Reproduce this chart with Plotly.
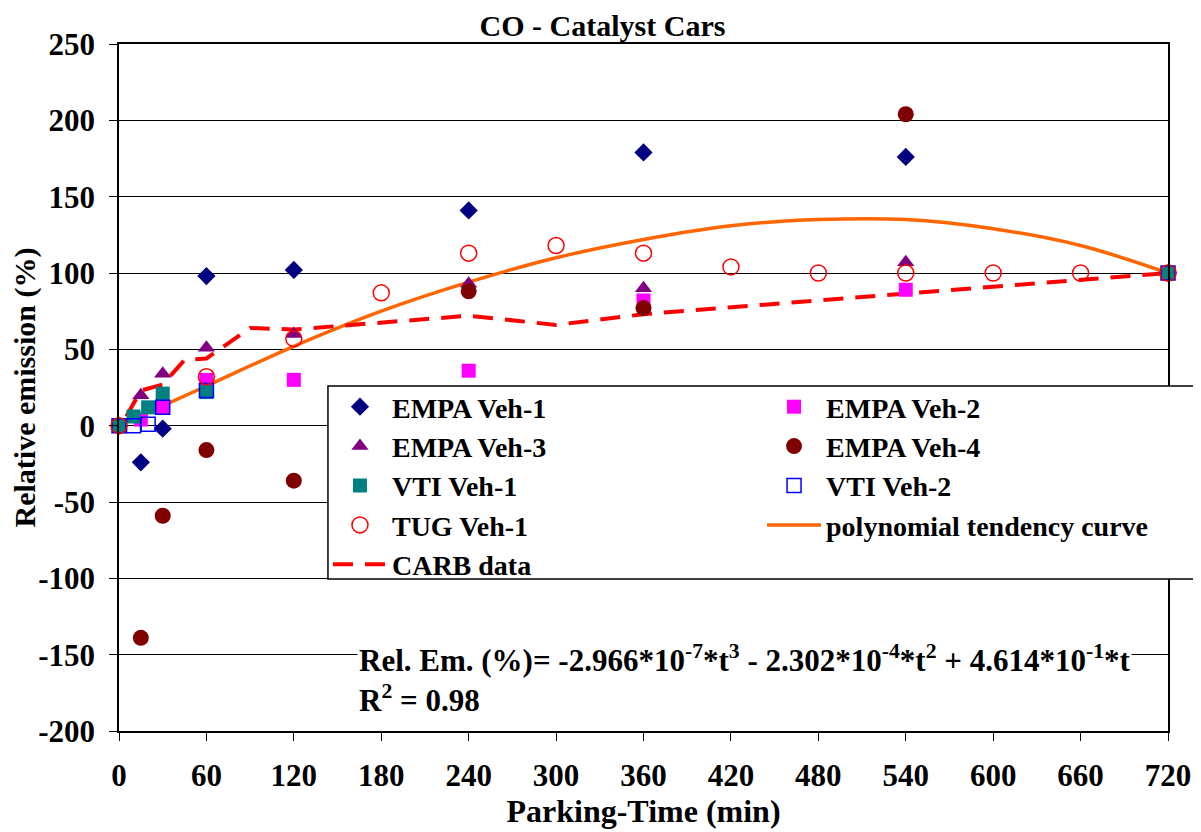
import plotly.graph_objects as go

# ---- data ----
empa1_t = [0, 15, 30, 60, 120, 240, 360, 540, 720]
empa1_v = [0, -24, -2, 98, 102, 141, 179, 176, 100]

empa2_t = [0, 15, 30, 60, 120, 240, 360, 540, 720]
empa2_v = [0, 4, 12, 30, 30, 36, 82, 89, 100]

empa3_t = [0, 15, 30, 60, 120, 240, 360, 540, 720]
empa3_v = [0, 20, 34, 51, 60, 93, 90, 107, 100]

empa4_t = [0, 15, 30, 60, 120, 240, 360, 540, 720]
empa4_v = [0, -139, -59, -16, -36, 88, 77, 204, 100]

vti1_t = [0, 10, 20, 30, 60, 720]
vti1_v = [0, 6, 12, 21, 22, 100]

vti2_t = [0, 10, 20, 30, 60, 720]
vti2_v = [0, 0, 1, 12, 23, 100]

tug1_t = [0, 60, 120, 180, 240, 300, 360, 420, 480, 540, 600, 660, 720]
tug1_v = [0, 32, 57, 87, 113, 118, 113, 104, 100, 100, 100, 100, 100]

poly_t = [30, 60, 120, 180, 240, 300, 360, 420, 480, 540, 600, 660, 720]
poly_v = [13, 26, 52, 75, 94, 110, 122, 131, 135, 135, 129, 118, 100]

carb_t = [5, 15, 30, 45, 60, 90, 120, 240, 300, 360, 720]
carb_v = [6, 23, 27, 43, 44, 64, 63, 72, 66, 73, 100]

x_ticks = [0, 60, 120, 180, 240, 300, 360, 420, 480, 540, 600, 660, 720]
y_ticks = [-200, -150, -100, -50, 0, 50, 100, 150, 200, 250]

title_text = "CO - Catalyst Cars"
x_title = "Parking-Time (min)"
y_title = "Relative emission (%)"
eq_text = ("Rel. Em. (%)= -2.966*10<sup>-7</sup>*t<sup>3</sup> - 2.302*10<sup>-4</sup>*t<sup>2</sup>"
           " + 4.614*10<sup>-1</sup>*t<br>R<sup>2</sup> = 0.98")

FONT = "Liberation Serif"


def f(size):
    return dict(family=FONT, size=size, color="black")


fig = go.Figure()

# lines first (drawn under markers)
fig.add_trace(go.Scatter(x=poly_t, y=poly_v, mode="lines", name="polynomial tendency curve",
                         line=dict(color="#FF6600", width=3.5, shape="spline"),
                         legend="legend2", legendrank=4, cliponaxis=False))
fig.add_trace(go.Scatter(x=carb_t, y=carb_v, mode="lines", name="CARB data",
                         line=dict(color="#FF0000", width=4, dash="20px,12px"),
                         legend="legend", legendrank=5, cliponaxis=False))

# (name, t, v, marker, legend, rank)
marker_series = [
    ("EMPA Veh-1", empa1_t, empa1_v, dict(symbol="diamond", size=14, color="#000080"), "legend", 1),
    ("EMPA Veh-2", empa2_t, empa2_v, dict(symbol="square", size=14, color="#FF00FF"), "legend2", 1),
    ("EMPA Veh-3", empa3_t, empa3_v, dict(symbol="triangle-up", size=15, color="#800080"), "legend", 2),
    ("EMPA Veh-4", empa4_t, empa4_v, dict(symbol="circle", size=16, color="#800000"), "legend2", 2),
    ("VTI Veh-1", vti1_t, vti1_v, dict(symbol="square", size=14, color="#008080"), "legend", 3),
    ("VTI Veh-2", vti2_t, vti2_v, dict(symbol="square-open", size=14, color="#0000FF",
                                       line=dict(width=1.5)), "legend2", 3),
    ("TUG Veh-1", tug1_t, tug1_v, dict(symbol="circle-open", size=16, color="#FF0000",
                                       line=dict(width=1.5)), "legend", 4),
]
for name, t, v, mk, lg, rank in marker_series:
    fig.add_trace(go.Scatter(x=t, y=v, mode="markers", name=name, marker=mk,
                             legend=lg, legendrank=rank, cliponaxis=False))

for tr in fig.data:
    tr.name = "<b>" + tr.name + "</b>"

leg_common = dict(orientation="v", yanchor="top", xanchor="left", y=0.508,
                  bgcolor="rgba(0,0,0,0)", borderwidth=0, font=f(28),
                  traceorder="normal", itemwidth=54)

# note: the page body adds an 8px offset, compensated in the margins
fig.update_layout(
    template="none",
    width=1201, height=832,
    margin=dict(l=111, r=41, t=36, b=109, autoexpand=False),
    paper_bgcolor="white", plot_bgcolor="white",
    font=f(30),
    title=dict(text="<b>" + title_text + "</b>", x=0.495, xref="container", xanchor="center",
               y=0.9784, yref="container", yanchor="middle", font=f(30)),
    showlegend=True,
    legend=dict(x=0.1992, **leg_common),
    legend2=dict(x=0.6130, **leg_common),
    hovermode=False,
)

# legend frame (white box with black border, covering the grid)
fig.add_shape(type="rect", xref="paper", yref="paper",
              x0=0.1992, x1=1.0250, y0=0.2213, y1=0.5022,
              line=dict(color="black", width=1.5), fillcolor="white", layer="above")

fig.update_xaxes(range=[0, 720], tickmode="array", tickvals=x_ticks,
                 ticktext=["<b>%d</b>" % v for v in x_ticks],
                 showgrid=False, zeroline=False, showline=True, linecolor="black",
                 linewidth=1.5, mirror=True, ticks="outside", ticklen=8, tickcolor="black",
                 ticklabelstandoff=8, automargin=False,
                 title=dict(text="<b>" + x_title + "</b>", standoff=4, font=f(32)),
                 tickfont=f(31))
fig.update_yaxes(range=[-200, 250], tickmode="array", tickvals=y_ticks,
                 ticktext=["<b>%d</b>" % v for v in y_ticks],
                 showgrid=True, gridcolor="black", gridwidth=1, zeroline=False,
                 showline=True, linecolor="black", linewidth=1.5, mirror=True,
                 ticks="outside", ticklen=8, tickcolor="black",
                 ticklabelstandoff=8, automargin=False,
                 title=dict(text="<b>" + y_title + "</b>", standoff=2, font=f(30)),
                 tickfont=f(31))

fig.add_annotation(text="<b>" + eq_text + "</b>", xref="paper", yref="paper",
                   x=0.227, y=0.076, xanchor="left", yanchor="middle", align="left",
                   showarrow=False, bgcolor="white", font=f(31))

fig.write_html("out.html", config={"displayModeBar": False})
